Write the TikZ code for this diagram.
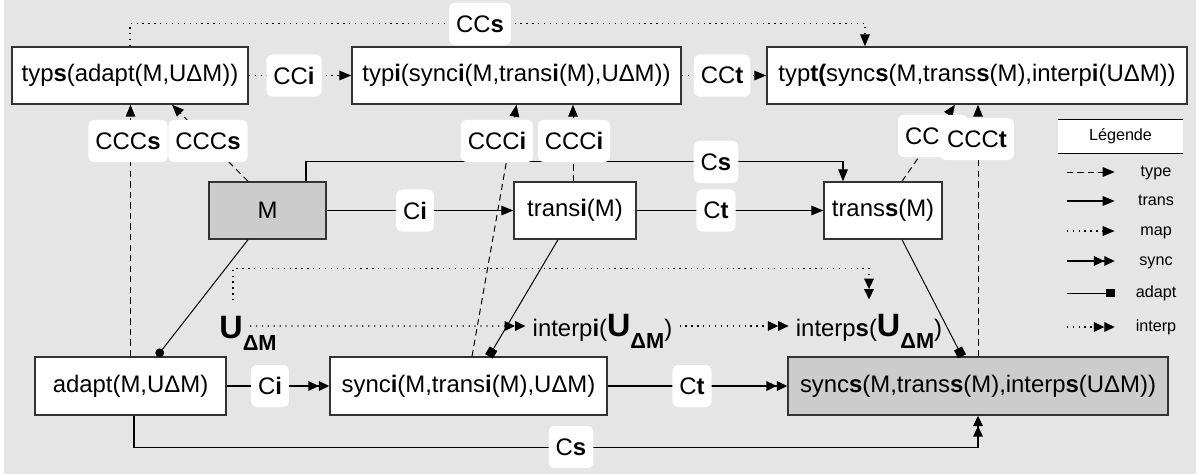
\documentclass[tikz,border=0pt]{standalone}
\usepackage{fontspec}
\setmainfont{Liberation Sans}
\usetikzlibrary{arrows.meta,positioning,calc}
\definecolor{bggray}{HTML}{E5E5E5}
\definecolor{boxgray}{HTML}{CCCCCC}
\definecolor{edge}{HTML}{333333}
\newcommand{\Udm}{{\fontsize{23}{23}\selectfont\bfseries U\raisebox{-9.2pt}{\fontsize{15.5}{16}\selectfont ΔM}}}

\begin{document}
\begin{tikzpicture}[x=0.025cm, y=-0.025cm, every node/.style={font=\fontsize{17}{20}\selectfont}]
\tikzset{box/.style={draw=edge, line width=1pt, fill=white, minimum height=1.425cm, inner sep=0pt}}
\tikzset{lbl/.style={fill=white, rounded corners=0.15cm, inner xsep=0.175cm, inner ysep=0pt, minimum height=1.05cm}}
\tikzset{legtxt/.style={font=\fontsize{11.5}{13}\selectfont, minimum width=1.5cm, inner sep=0pt, text height=1.5ex, text depth=.25ex}}
\tikzset{onetip/.style={-{Triangle[length=0.3cm,width=0.24cm]}}}
\tikzset{twotips/.style={-{Triangle[length=0.26cm,width=0.24cm] Triangle[length=0.26cm,width=0.24cm]}}}
\tikzset{typearr/.style={onetip, line width=0.7pt, dash pattern=on 4.5pt off 3pt}}
\tikzset{transarr/.style={onetip, line width=0.8pt}}
\tikzset{maparr/.style={onetip, line width=0.9pt, dash pattern=on 0.9pt off 3.3pt}}
\tikzset{syncarr/.style={twotips, line width=0.8pt}}
\tikzset{adaptarr/.style={-{Square[length=0.22cm,width=0.22cm]}, line width=0.7pt}}
\tikzset{interparr/.style={twotips, line width=0.9pt, dash pattern=on 0.9pt off 3.3pt}}
\useasboundingbox (0,0) rectangle (1200,474);
\fill[bggray] (4,0) rectangle (1196,474);
% boxes
\node[box, minimum width=5.9cm] (typs) at (130,75.5) {typ\textbf{s}(adapt(M,UΔM))};
\node[box, minimum width=8.225cm] (typi) at (516.5,75.5) {typ\textbf{i}(sync\textbf{i}(M,trans\textbf{i}(M),UΔM))};
\node[box, minimum width=10.5cm] (typt) at (977,75.5) {typ\textbf{t(}sync\textbf{s}(M,trans\textbf{s}(M),interp\textbf{i}(UΔM))};
\node[box, fill=boxgray, minimum width=2.925cm] (m) at (267.5,210.5) {M};
\node[box, minimum width=3.05cm] (transi) at (575,210.5) {trans\textbf{i}(M)};
\node[box, minimum width=2.95cm] (transs) at (883,210.5) {trans\textbf{s}(M)};
\node[box, minimum width=4.775cm, minimum height=1.45cm] (adapt) at (130.5,386) {adapt(M,UΔM)};
\node[box, minimum width=6.925cm, minimum height=1.45cm] (synci) at (468.5,386) {sync\textbf{i}(M,trans\textbf{i}(M),UΔM)};
\node[box, fill=boxgray, minimum width=9.5cm, minimum height=1.45cm] (syncs) at (978,386) {sync\textbf{s}(M,trans\textbf{s}(M),interp\textbf{s}(UΔM))};
\node[inner xsep=0pt, inner ysep=0.375cm, anchor=base] (udm) at (248,338) {\Udm};
\node[inner xsep=0.175cm, inner ysep=0.35cm, anchor=base] (interpi) at (602.5,336) {interp\textbf{i}(\Udm)};
\node[inner xsep=0.175cm, inner ysep=0.35cm, anchor=base] (interps) at (869,336) {interp\textbf{s}(\Udm)};
% type maps
\draw[maparr] (typs.north) -- ++(0,-23) -| ([xshift=-2.8cm]typt.north);
\draw[maparr] (typs) -- (typi);
\draw[maparr] (typi) -- (typt);
% transformations
\draw[transarr] (m) -- (transi);
\draw[transarr] (transi) -- (transs);
\draw[transarr] ([xshift=0.9625cm]m.north) -- ++(0,-20) -| ([xshift=-1cm]transs.north);
% synchronisations
\draw[syncarr] (adapt) -- (synci);
\draw[syncarr] (synci) -- (syncs);
\draw[syncarr] ([xshift=0.0875cm]adapt.south) -- ++(0,32) -| (syncs.south);
% typing
\draw[typearr] (adapt.north) -- (adapt.north |- typs.south);
\draw[typearr] ([xshift=-0.4875cm]m.north) -- ([xshift=1.05cm]typs.south);
\draw[typearr] ([xshift=0.0875cm]synci.north) -- (typi.south);
\draw[typearr] ([xshift=-0.05cm]transi.north) -- ([xshift=-0.05cm]transi.north |- typi.south);
\draw[typearr] ([xshift=0.475cm]transs.north) -- ([xshift=-0.55cm]typt.south);
\draw[typearr] (syncs.north) -- (syncs.north |- typt.south);
% adaptations
\draw[line width=0.7pt, -{Circle[length=0.22cm]}] ([xshift=-0.4875cm]m.south) -- ([xshift=0.6625cm]adapt.north);
\draw[adaptarr] ([xshift=-0.425cm]transi.south) -- ([xshift=0.5125cm]synci.north);
\draw[adaptarr] ([xshift=0.475cm]transs.south) -- ([xshift=-0.4cm]syncs.north);
% interpretations
\draw[interparr] ([xshift=0.05cm,yshift=0.3cm]udm.base) -- ([yshift=0.25cm]interpi.base west);
\draw[interparr] ([yshift=0.25cm]interpi.base east) -- ([yshift=0.25cm]interps.base west);
\draw[interparr] ([xshift=-0.375cm]udm.north) -- ++(0,-32) -| (interps.north);
% labels
\node[lbl] (lccs) at (480,24) {CC\textbf{s}};
\node[lbl] (lcci) at (294,75.5) {CC\textbf{i}};
\node[lbl] (lcct) at (722,75.5) {CC\textbf{t}};
\node[lbl] (lcccs1) at (128,141) {CCC\textbf{s}};
\node[lbl] (lcccs2) at (208,141) {CCC\textbf{s}};
\node[lbl] (lccci1) at (497,141) {CCC\textbf{i}};
\node[lbl] (lccci2) at (574,141) {CCC\textbf{i}};
\node[lbl, text width=1.4cm, align=left] (lcc) at (933,136) {CC};
\node[lbl] (lccct) at (977,139) {CCC\textbf{t}};
\node[lbl] (lcs1) at (716,162) {C\textbf{s}};
\node[lbl] (lci1) at (415,210.5) {C\textbf{i}};
\node[lbl] (lct1) at (716,210.5) {C\textbf{t}};
\node[lbl] (lci2) at (270,386) {C\textbf{i}};
\node[lbl] (lct2) at (692,386) {C\textbf{t}};
\node[lbl] (lcs2) at (571,447) {C\textbf{s}};
% legend
\node[fill=white, minimum width=3.125cm, minimum height=0.825cm, inner sep=0pt, font=\fontsize{11.5}{13}\selectfont] (legend) at (1120.5,136.5) {Légende};
\draw[line width=0.6pt] (legend.north west) -- (legend.north east);
\draw[line width=0.9pt] (legend.south west) -- (legend.south east);
\node[legtxt] (ltype) at (1156,172) {type};
\node[legtxt] (ltrans) at (1156,201) {trans};
\node[legtxt] (lmap) at (1156,231) {map};
\node[legtxt] (lsync) at (1156,261) {sync};
\node[legtxt] (ladapt) at (1156,293) {adapt};
\node[legtxt] (linterp) at (1156,327) {interp};
\draw[typearr] ([xshift=-1.475cm]ltype.west) -- ([xshift=-0.275cm]ltype.west);
\draw[transarr] ([xshift=-1.475cm]ltrans.west) -- ([xshift=-0.275cm]ltrans.west);
\draw[maparr] ([xshift=-1.475cm]lmap.west) -- ([xshift=-0.275cm]lmap.west);
\draw[syncarr] ([xshift=-1.475cm]lsync.west) -- ([xshift=-0.275cm]lsync.west);
\draw[adaptarr] ([xshift=-1.475cm]ladapt.west) -- ([xshift=-0.275cm]ladapt.west);
\draw[interparr] ([xshift=-1.475cm]linterp.west) -- ([xshift=-0.275cm]linterp.west);
\end{tikzpicture}
\end{document}
